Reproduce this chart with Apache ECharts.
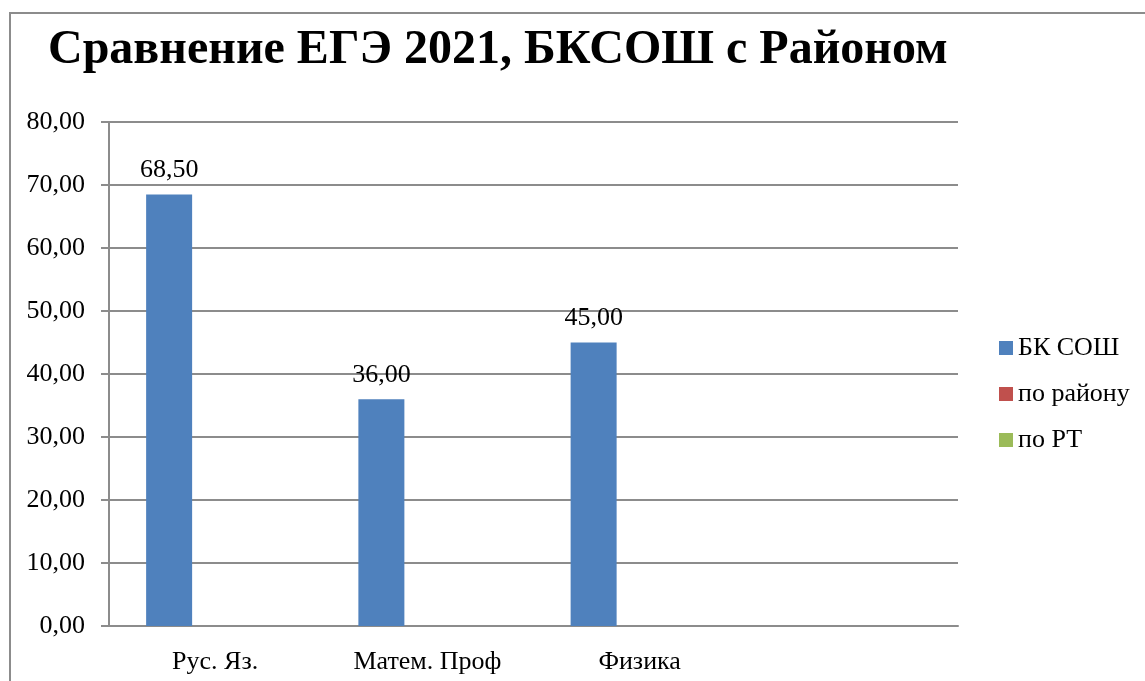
<!DOCTYPE html>
<html>
<head>
<meta charset="utf-8">
<script src="https://cdn.jsdelivr.net/npm/echarts@6/dist/echarts.min.js"></script>
<style>
  html, body { margin: 0; padding: 0; background: #fff; overflow: hidden; }
  #frame { position: absolute; left: 9px; top: 12px; width: 1300px; height: 800px; border: 2px solid #8c8c8c; box-sizing: border-box; }
  #chart { position: absolute; left: 0; top: 0; width: 1145px; height: 681px; }
</style>
</head>
<body>
<div id="frame"></div>
<div id="chart"></div>
<script>
  // data
  const categories = ['Рус. Яз.', 'Матем. Проф', 'Физика', ''];
  const bkSosh = [68.5, 36, 45, null];
  const poRaionu = [null, null, null, null];
  const poRT = [null, null, null, null];

  const fmt = v => v.toFixed(2).replace('.', ',');
  const font = '"Liberation Serif", "Times New Roman", serif';

  const chart = echarts.init(document.getElementById('chart'));
  chart.setOption({
    animation: false,
    textStyle: { fontFamily: font },
    title: {
      text: 'Сравнение ЕГЭ 2021, БКСОШ с Районом',
      left: 43,
      top: 22,
      textStyle: { fontFamily: font, fontSize: 48, fontWeight: 'bold', color: '#000' }
    },
    legend: {
      orient: 'vertical',
      left: 994,
      top: 330,
      itemWidth: 14,
      itemHeight: 14,
      itemGap: 20,
      icon: 'rect',
      textStyle: { fontFamily: font, fontSize: 26, lineHeight: 26, color: '#000', padding: [0, 0, 0, 0] }
    },
    grid: { left: 109, right: 187, top: 122, bottom: 55 },
    xAxis: {
      type: 'category',
      data: categories,
      axisLine: { lineStyle: { color: '#8c8c8c', width: 2 } },
      axisTick: { length: 8, lineStyle: { color: '#8c8c8c', width: 2 } },
      axisLabel: { fontFamily: font, fontSize: 26, color: '#000', margin: 23 }
    },
    yAxis: {
      type: 'value',
      min: 0,
      max: 80,
      interval: 10,
      axisLine: { show: true, lineStyle: { color: '#8c8c8c', width: 2 } },
      axisTick: { show: true, length: 8, lineStyle: { color: '#8c8c8c', width: 2 } },
      splitLine: { lineStyle: { color: '#8c8c8c', width: 2 } },
      axisLabel: { fontFamily: font, fontSize: 26, color: '#000', margin: 24, formatter: fmt }
    },
    series: [
      {
        name: 'БК СОШ', type: 'bar', data: bkSosh, barWidth: 46, barGap: '0%',
        itemStyle: { color: '#4F81BD' },
        label: { show: true, position: 'top', distance: 11, fontFamily: font, fontSize: 26, color: '#000',
          formatter: p => fmt(p.value) }
      },
      { name: 'по району', type: 'bar', data: poRaionu, barWidth: 46, barGap: '0%', itemStyle: { color: '#C0504D' } },
      { name: 'по РТ', type: 'bar', data: poRT, barWidth: 46, barGap: '0%', itemStyle: { color: '#9BBB59' } }
    ]
  });
</script>
</body>
</html>
